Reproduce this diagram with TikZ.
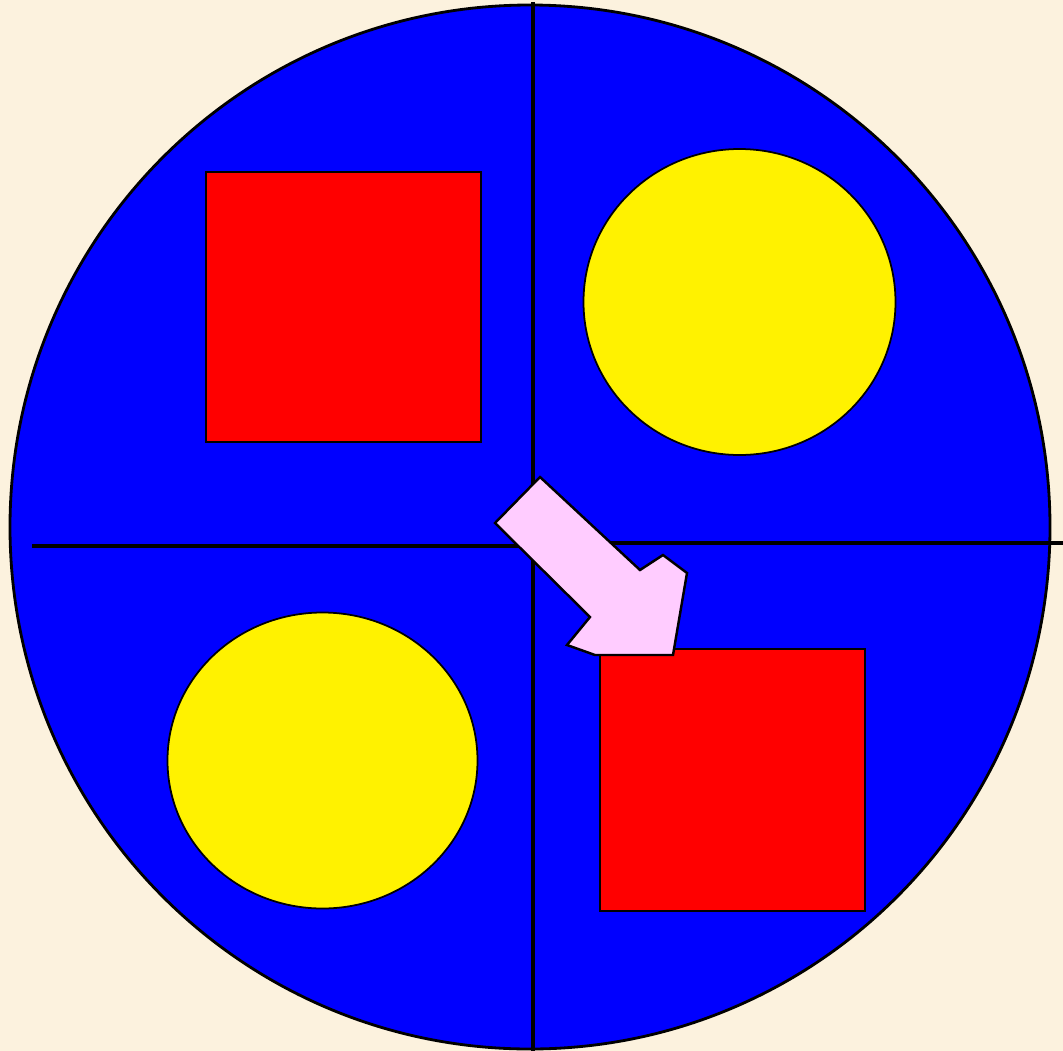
\documentclass[tikz,border=0pt]{standalone}
\usepackage{tikz}
\usetikzlibrary{calc}

\definecolor{bgcream}{RGB}{252,242,222}
\definecolor{dialblue}{RGB}{0,0,255}
\definecolor{arrowpink}{RGB}{255,204,255}

\begin{document}
\begin{tikzpicture}[
            x=0.01cm, y=-0.01cm,
            outline/.style={draw=black, line width=0.8pt},
            square/.style={outline, fill=red},
            disc/.style={fill=yellow, draw=black, line width=0.5pt},
            divider/.style={draw=black, line width=0.9pt},
            pointer/.style={outline, fill=arrowpink, line width=0.7pt, line join=miter}
        ]

        % Sfondo
        \fill[bgcream] (0,0) rectangle (1063,1051);
        \useasboundingbox (0,0) rectangle (1063,1051);

        % Cerchio
        \filldraw[outline, fill=dialblue] (530,527) ellipse (520 and 522);

        % Divisori
        \draw[divider] (533,2) -- (533,1051);
        \draw[divider] (32,546) -- (520,546);
        \draw[divider] (610,543) -- (1063,543);

        % Quadrati
        \draw[square] (206,172) rectangle (481,442);
        \draw[square] (600,649) rectangle (865,911);

        % Dischi
        \draw[disc] (739.5,302) ellipse (156 and 153);
        \draw[disc] (322.5,760.5) ellipse (155 and 148);

        % Freccia
        \draw[pointer] (540,477) -- (640,570) -- (663,555) -- (687,573)
                    -- (673,655) -- (595,655) -- (567,645) -- (590,617)
                    -- (495,523) -- cycle;

    \end{tikzpicture}
\end{document}
